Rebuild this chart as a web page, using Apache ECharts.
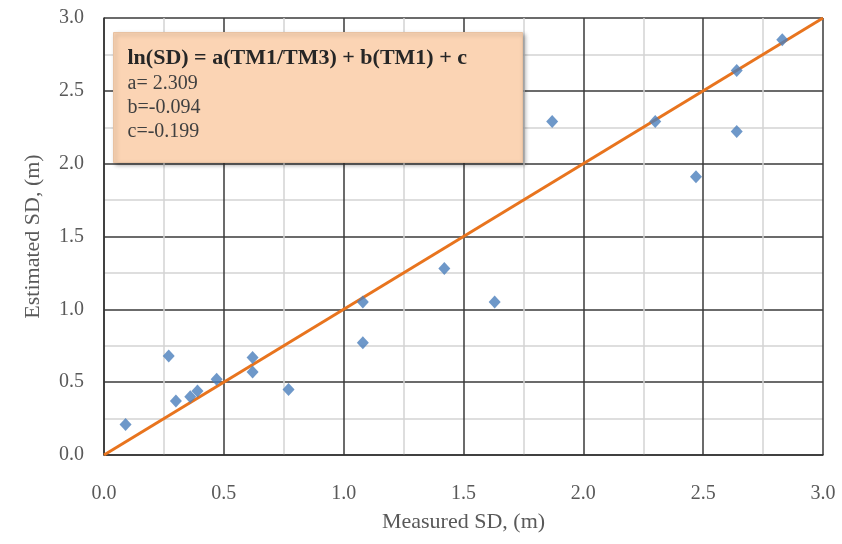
<!DOCTYPE html>
<html>
<head>
<meta charset="utf-8">
<script src="https://cdn.jsdelivr.net/npm/echarts@6/dist/echarts.min.js"></script>
<style>
  html, body { margin: 0; padding: 0; background: #fff; }
  #chart { width: 842px; height: 544px; }
</style>
</head>
<body>
<div id="chart"></div>
<script>
// 实测值 / 估算值 (m)
const measuredSD = [0.09, 0.27, 0.30, 0.36, 0.39, 0.47, 0.62, 0.62, 0.77, 1.08, 1.08, 1.42, 1.63, 1.87, 2.30, 2.47, 2.64, 2.64, 2.83];
const estimatedSD = [0.21, 0.68, 0.37, 0.40, 0.44, 0.52, 0.67, 0.57, 0.45, 0.77, 1.05, 1.28, 1.05, 2.29, 2.29, 1.91, 2.22, 2.64, 2.85];
// 1:1 线
const lineX = [0, 3];
const lineY = [0, 3];
const eqLines = ['ln(SD) = a(TM1/TM3) + b(TM1) + c', 'a= 2.309', 'b=-0.094', 'c=-0.199'];

const chart = echarts.init(document.getElementById('chart'));

const serif = '"Liberation Serif", "DejaVu Serif", serif';

const axisCommon = {
  type: 'value',
  min: 0,
  max: 3,
  interval: 0.5,
  nameLocation: 'middle',
  nameTextStyle: { fontFamily: serif, fontSize: 22, color: '#595959' },
  axisLine: { show: true, lineStyle: { color: '#333', width: 1.5 } },
  axisTick: { show: false },
  axisLabel: {
    fontFamily: serif, fontSize: 20, color: '#595959',
    formatter: v => v.toFixed(1)
  },
  splitLine: { show: true, lineStyle: { color: '#3a3a3a', width: 1.5 } },
  minorTick: { show: false, splitNumber: 2 },
  minorSplitLine: { show: true, lineStyle: { color: '#d4d4d4', width: 1.5 } }
};

const option = {
  backgroundColor: '#fff',
  animation: false,
  grid: { left: 104, right: 19, top: 18, bottom: 89 },
  xAxis: Object.assign({}, axisCommon, {
    name: 'Measured SD, (m)',
    nameGap: 56,
    axisLabel: Object.assign({}, axisCommon.axisLabel, { margin: 29 })
  }),
  yAxis: Object.assign({}, axisCommon, {
    name: 'Estimated SD, (m)',
    nameGap: 60,
    axisLabel: Object.assign({}, axisCommon.axisLabel, { margin: 20 })
  }),
  series: [
    {
      type: 'line',
      data: lineX.map((x, i) => [x, lineY[i]]),
      symbol: 'none',
      lineStyle: { color: '#E8741E', width: 3 },
      z: 3
    },
    {
      type: 'scatter',
      data: measuredSD.map((x, i) => [x, estimatedSD[i]]),
      symbol: 'diamond',
      symbolSize: [12, 13],
      itemStyle: { color: '#4A7EBB' },
      z: 4
    }
  ],
  graphic: [
    {
      type: 'group',
      left: 113,
      top: 32,
      z: 100,
      children: [
        {
          type: 'rect',
          z: 100,
          shape: { x: 0, y: 0, width: 409, height: 130 },
          style: {
            fill: '#FBD4B4',
            stroke: '#E8C2A2',
            lineWidth: 1,
            shadowBlur: 4,
            shadowOffsetX: 2,
            shadowOffsetY: 2,
            shadowColor: 'rgba(0,0,0,0.3)'
          }
        },
        {
          type: 'text',
          z: 101,
          x: 14,
          y: 13,
          style: {
            text: '{b|' + eqLines[0] + '}\n{n|' + eqLines.slice(1).join('}\n{n|') + '}',
            rich: {
              b: { fontFamily: serif, fontSize: 22, fontWeight: 'bold', fill: '#262626', lineHeight: 26 },
              n: { fontFamily: serif, fontSize: 20, fill: '#404040', lineHeight: 24 }
            }
          }
        }
      ]
    }
  ]
};

chart.setOption(option);
window.addEventListener('resize', () => chart.resize());
</script>
</body>
</html>
